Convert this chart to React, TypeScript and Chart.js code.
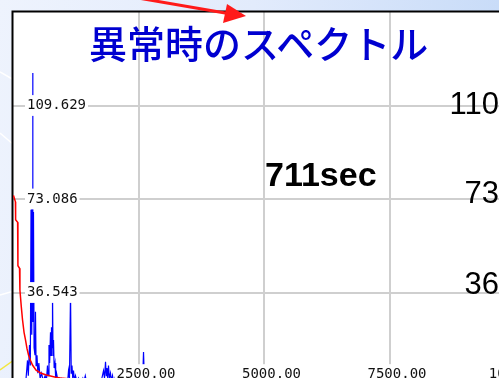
import React, { useEffect, useRef } from 'react';
import { Chart, registerables } from 'chart.js';

Chart.register(...registerables);

// ---- texts ----
const titleText = '異常時のスペクトル';
const annotationText = '711sec';
const rightLabels = ['110', '73', '36'];

// ---- axes ----
const xMin = 0;
const xMax = 10000;
const yMin = 0;
const yMax = 146.172;
const xTickValues = [2500, 5000, 7500, 10000];
const xTickLabels = ['2500.00', '5000.00', '7500.00', '10000.00'];
const yTickValues = [36.543, 73.086, 109.629];
const yTickLabels = ['36.543', '73.086', '109.629'];

// ---- blue spectrum (Hz, amplitude) ----
const blueFreq = [
  0, 200, 260, 289, 305, 329, 345, 359, 370, 378, 386, 392, 398, 408, 420, 438, 448, 460, 478, 495,
  515, 540, 570, 600, 640, 665, 687, 700, 717, 730, 747, 757, 767, 777, 787, 797, 807, 820, 837, 850,
  867, 900, 960, 1000, 1060, 1090, 1106, 1125, 1146, 1160, 1175, 1190, 1205, 1225, 1245, 1275, 1305, 1340, 1390, 1410,
  1440, 1470, 1550, 1650, 1720, 1770, 1803, 1823, 1843, 1858, 1872, 1887, 1902, 1920, 1942, 1960, 1982, 2000, 2022, 2050,
  2300, 2580, 2600, 2620, 3000, 4000, 6000, 10000,
];
const blueAmp = [
  2, 1.5, 3, 10, 4, 16, 8, 69, 20, 70, 30, 122.3, 25, 68, 15, 12, 29, 8, 12, 5,
  9, 3, 5, 2, 4, 2, 8, 4, 16, 9, 21, 12, 23, 15, 37, 12, 18, 7, 9, 3,
  5, 1.5, 3, 1, 2.5, 2, 6, 3, 36.5, 5, 8, 3, 6, 2, 4, 1.5, 3, 1, 3, 1.5,
  4, 1, 1, 2, 1, 3, 6, 3, 9.5, 4, 7, 3, 8, 3, 5, 2, 4, 1.5, 3, 1,
  1, 1, 13.3, 1, 0.8, 0.6, 0.5, 0.4,
];

// ---- red trend curve (Hz, amplitude) ----
const redFreq = [
  10, 48, 52, 92, 98, 130, 138, 165, 189, 220, 249, 280, 309, 350, 388, 460, 548, 650, 747, 850,
  946, 1200, 1600, 2200, 3000, 4500, 6500, 10000,
];
const redAmp = [
  74.5, 72, 65, 64, 47, 46, 37.5, 31, 26, 21, 18, 14.5, 12.1, 10, 8.2, 6.2, 5.1, 4.4, 3.9, 3.4,
  3.1, 2.6, 2.2, 1.8, 1.5, 1.2, 1.0, 0.9,
];

const toPoints = (xs: number[], ys: number[]) => xs.map((x, i) => ({ x, y: ys[i] }));

const plotFrame = {
  id: 'plotFrame',
  beforeDraw(chart: any) {
    const { ctx, chartArea } = chart;
    ctx.save();
    ctx.fillStyle = '#ffffff';
    ctx.fillRect(chartArea.left, chartArea.top, chartArea.right - chartArea.left, chartArea.bottom - chartArea.top);
    ctx.restore();
  },
  beforeDatasetsDraw(chart: any) {
    const { ctx, chartArea } = chart;
    ctx.save();
    ctx.strokeStyle = '#000000';
    ctx.lineWidth = 2;
    ctx.strokeRect(chartArea.left - 0.5, chartArea.top - 0.5, chartArea.right - chartArea.left, chartArea.bottom - chartArea.top);
    ctx.restore();
  },
};

const tickFont = { family: "'DejaVu Sans Mono', 'Liberation Mono', monospace", size: 14 };

const zeroFit = (horizontal: boolean) => (s: any) => {
  if (horizontal) s.height = 0;
  else s.width = 0;
  s.paddingLeft = 0;
  s.paddingRight = 0;
  s.paddingTop = 0;
  s.paddingBottom = 0;
};

function SpectrumChart() {
  const ref = useRef<HTMLCanvasElement | null>(null);
  useEffect(() => {
    if (!ref.current) return;
    const chart = new Chart(ref.current, {
      type: 'line',
      data: {
        datasets: [
          {
            label: 'trend',
            data: toPoints(redFreq, redAmp),
            borderColor: '#ff0000',
            borderWidth: 1.5,
            pointRadius: 0,
            tension: 0,
          },
          {
            label: 'spectrum',
            data: toPoints(blueFreq, blueAmp),
            borderColor: '#0000ff',
            borderWidth: 1.2,
            pointRadius: 0,
            tension: 0,
          },
        ],
      },
      options: {
        animation: false,
        responsive: true,
        maintainAspectRatio: false,
        layout: { padding: { left: 13, top: 12, right: 85, bottom: 14 } },
        plugins: { legend: { display: false }, tooltip: { enabled: false }, title: { display: false } },
        events: [],
        scales: {
          x: {
            type: 'linear',
            position: 'bottom',
            min: xMin,
            max: xMax,
            afterBuildTicks: (s: any) => { s.ticks = xTickValues.map((v) => ({ value: v })); },
            afterFit: zeroFit(true),
            grid: { color: '#cfcfcf', lineWidth: 2, drawTicks: false },
            border: { display: false },
            ticks: {
              autoSkip: false,
              maxRotation: 0,
              minRotation: 0,
              mirror: true,
              padding: 3,
              labelOffset: 7.5,
              z: 1,
              color: '#111111',
              font: tickFont,
              showLabelBackdrop: true,
              backdropColor: '#ffffff',
              backdropPadding: 2,
              callback: (_v: any, i: number) => xTickLabels[i],
            },
          },
          y: {
            type: 'linear',
            position: 'left',
            min: yMin,
            max: yMax,
            afterBuildTicks: (s: any) => { s.ticks = yTickValues.map((v) => ({ value: v })); },
            afterFit: zeroFit(false),
            grid: { color: '#cfcfcf', lineWidth: 2, drawTicks: false },
            border: { display: false },
            ticks: {
              mirror: true,
              padding: 14,
              z: 1,
              color: '#111111',
              font: tickFont,
              showLabelBackdrop: true,
              backdropColor: '#ffffff',
              backdropPadding: 2,
              callback: (_v: any, i: number) => yTickLabels[i],
            },
          },
        },
      },
      plugins: [plotFrame],
    } as any);
    return () => chart.destroy();
  }, []);
  return (
    <div style={{ position: 'absolute', left: 0, top: 0, width: 600, height: 400 }}>
      <canvas ref={ref} />
    </div>
  );
}

export default function App() {
  return (
    <div
      style={{
        position: 'fixed',
        left: 0,
        top: 0,
        width: 499,
        height: 378,
        overflow: 'hidden',
        background: 'linear-gradient(100deg, #eef3fd 0%, #e2ebfc 45%, #c2d8f7 100%)',
      }}
    >
      <svg width={499} height={378} style={{ position: 'absolute', left: 0, top: 0 }}>
        <line x1={0} y1={72} x2={14} y2={80} stroke="#ffffff" strokeWidth={1.5} />
        <line x1={0} y1={133} x2={14} y2={145} stroke="#ffffff" strokeWidth={1.5} />
        <line x1={0} y1={295} x2={14} y2={291} stroke="#ffffff" strokeWidth={1.5} />
        <line x1={0} y1={370} x2={14} y2={360} stroke="#f2e640" strokeWidth={1.5} />
      </svg>
      <SpectrumChart />
      <div
        style={{
          position: 'absolute',
          left: 89,
          top: 23,
          fontFamily: "'Noto Sans CJK JP', sans-serif",
          fontWeight: 500,
          fontSize: 38,
          lineHeight: 1,
          color: '#0000d0',
          whiteSpace: 'nowrap',
        }}
      >
        {titleText}
      </div>
      <div
        style={{
          position: 'absolute',
          left: 265,
          top: 157,
          fontFamily: "'Liberation Sans', Arial, sans-serif",
          fontWeight: 700,
          fontSize: 34,
          lineHeight: 1,
          color: '#000000',
          whiteSpace: 'nowrap',
        }}
      >
        {annotationText}
      </div>
      {rightLabels.map((t, i) => (
        <div
          key={t}
          style={{
            position: 'absolute',
            right: 0,
            top: [88, 177, 268][i],
            fontFamily: "'Liberation Sans', Arial, sans-serif",
            fontSize: 31,
            lineHeight: 1,
            color: '#000000',
            whiteSpace: 'nowrap',
          }}
        >
          {t}
        </div>
      ))}
      <svg width={499} height={378} style={{ position: 'absolute', left: 0, top: 0 }}>
        <line x1={138} y1={-2} x2={228} y2={13.5} stroke="#ff1a1a" strokeWidth={3} />
        <polygon points="227,4 223,23 246,16" fill="#ff1a1a" />
      </svg>
    </div>
  );
}
